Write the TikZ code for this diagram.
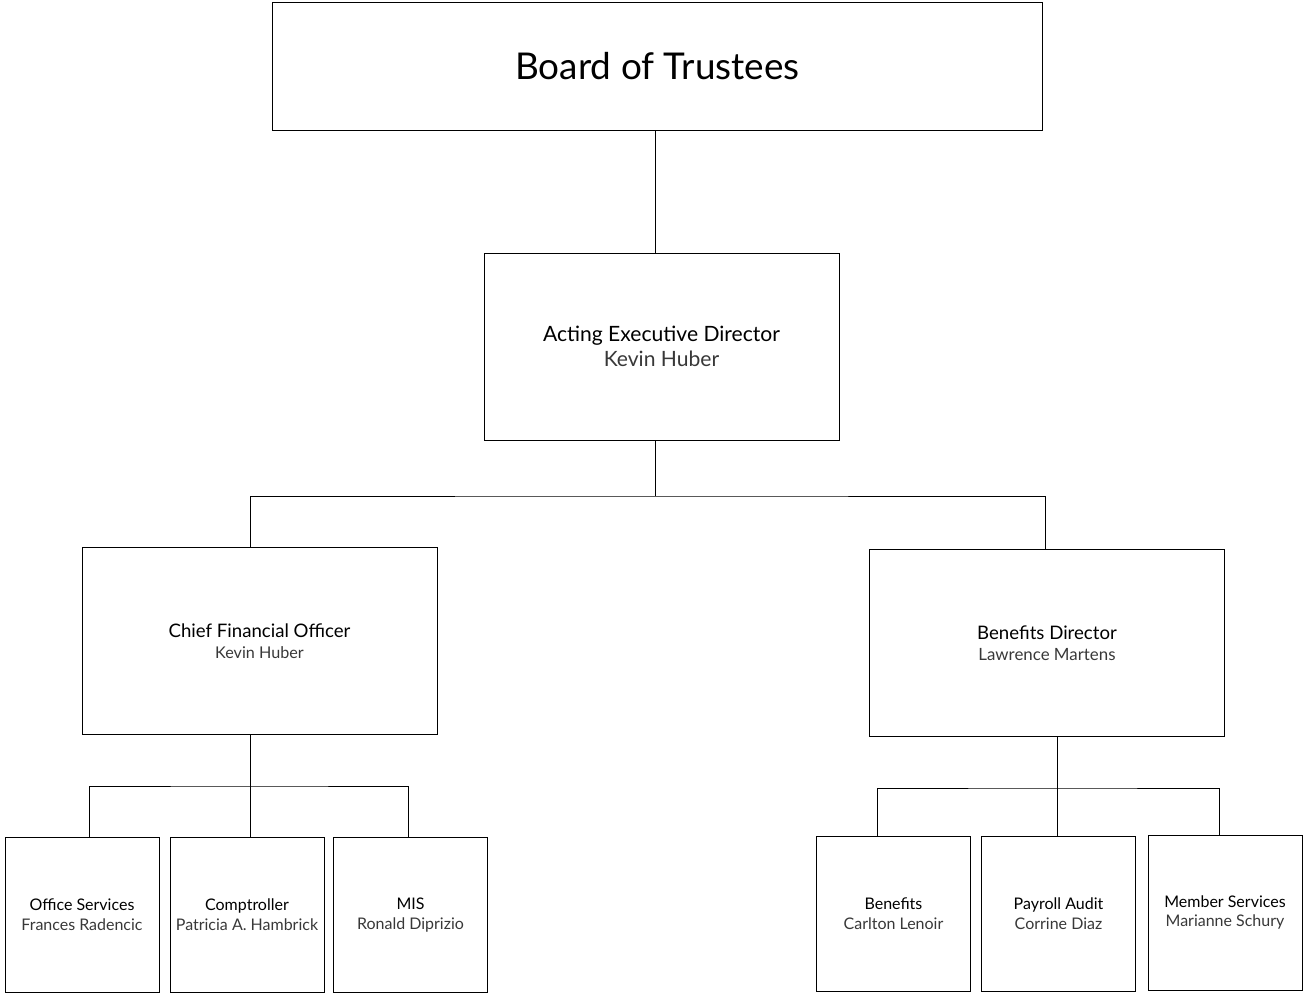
\documentclass[tikz,border=0pt]{standalone}
\usepackage{fontspec}
\setmainfont{Lato}
\usepackage{tikz}
\usetikzlibrary{positioning,calc}

\newcommand{\incumbent}[1]{{\color{black!78}#1}}

\tikzset{
  unitbox/.style={draw, line width=0.5pt, align=center, inner sep=0pt},
  topbox/.style={unitbox, minimum width=15.42cm, minimum height=2.56cm, font=\fontsize{21}{25}\selectfont},
  headbox/.style={unitbox, minimum width=7.1cm, minimum height=3.74cm, font=\fontsize{12}{14.5}\selectfont},
  dirbox/.style={unitbox, minimum width=7.1cm, minimum height=3.74cm, font=\fontsize{10.6}{12}\selectfont},
  staffbox/.style={unitbox, minimum width=3.08cm, minimum height=3.1cm, font=\fontsize{9.1}{11.3}\selectfont},
  link/.style={line width=0.5pt}
}

\begin{document}
\begin{tikzpicture}[x=0.02cm, y=-0.02cm]
        \useasboundingbox (0,0) rectangle (1303,993);

        % Top level
        \node[topbox] (board) at (657.5, 66) {Board of Trustees};
        \node[headbox] (aed) at (661.5, 346.5) {Acting Executive Director\\\incumbent{Kevin Huber}};

        % Directors
        \node[dirbox] (cfo) at (259.5, 641) {Chief Financial Officer\\\incumbent{\fontsize{9.2}{12}\selectfont Kevin Huber}};
        \node[dirbox] (bdir) at (1047, 643) {Benefits Director\\\incumbent{\fontsize{9.6}{12}\selectfont Lawrence Martens}};

        % Units under the CFO
        \node[staffbox] (office) at (82, 914.5) {Office Services\\\incumbent{Frances Radencic}};
        \node[staffbox] (compt) at (247, 914.5) {Comptroller\\\incumbent{Patricia A. Hambrick}};
        \node[staffbox] (mis) at (410.5, 915) {MIS\\\incumbent{Ronald Diprizio}};

        % Units under the benefits director
        \node[staffbox] (bene) at (893.5, 914) {Benefits\\\incumbent{Carlton Lenoir}};
        \node[staffbox] (payroll) at (1058.5, 914) {Payroll Audit\\\incumbent{Corrine Diaz}};
        \node[staffbox] (member) at (1225, 912.5) {Member Services\\\incumbent{Marianne Schury}};

        % Junction points
        \coordinate (aedbus) at (655, 496);
        \coordinate (cfobus) at (250, 786);
        \coordinate (bdirbus) at (1057, 788);

        % Connectors
        \draw[link] (655,0 |- board.south) -- (655,0 |- aed.north);
        \draw[link] (655,0 |- aed.south) -- (aedbus);
        \draw[link] (250,0 |- cfo.north) |- (aedbus) -| (1045,0 |- bdir.north);

        \draw[link] (250,0 |- cfo.south) -- (cfobus);
        \draw[link] (89,0 |- office.north) |- (cfobus) -| (408,0 |- mis.north);
        \draw[link] (cfobus) -- (250,0 |- compt.north);

        \draw[link] (1057,0 |- bdir.south) -- (bdirbus);
        \draw[link] (877,0 |- bene.north) |- (bdirbus) -| (1219,0 |- member.north);
        \draw[link] (bdirbus) -- (1057,0 |- payroll.north);
\end{tikzpicture}
\end{document}
